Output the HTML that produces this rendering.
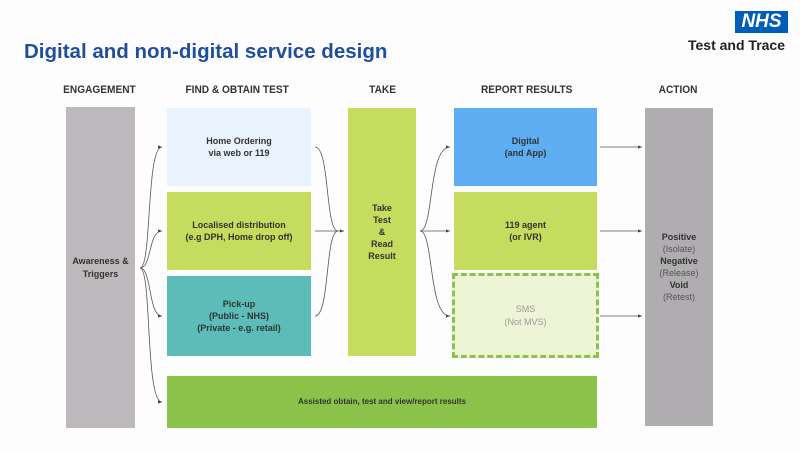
<!DOCTYPE html>
<html><head><style>
body{margin:0;width:800px;height:451px;background:#fdfdfd;position:relative;overflow:hidden;font-family:"Liberation Sans",sans-serif;}
.a{position:absolute;}
.b{position:absolute;display:flex;align-items:center;justify-content:center;text-align:center;font-size:9px;font-weight:bold;color:#333;line-height:1.35;}
.h{position:absolute;top:84px;font-size:11px;font-weight:bold;color:#333;transform:scaleX(0.92);white-space:nowrap;}
</style></head><body>
<div class="a" style="left:735px;top:11px;width:53px;height:22px;background:#005eb8;color:#fff;font-weight:bold;font-style:italic;font-size:19px;line-height:22px;text-align:center;">NHS</div>
<div class="a" style="left:688px;top:37px;font-size:14px;font-weight:bold;color:#222;">Test and Trace</div>
<div class="a" style="left:24px;top:40px;font-size:20.5px;font-weight:bold;color:#1f4e9c;">Digital and non-digital service design</div>
<div class="h" style="left:60px">ENGAGEMENT</div>
<div class="h" style="left:181px">FIND &amp; OBTAIN TEST</div>
<div class="h" style="left:368px">TAKE</div>
<div class="h" style="left:477px">REPORT RESULTS</div>
<div class="h" style="left:657px">ACTION</div>

<div class="b" style="left:66px;top:107px;width:69px;height:321px;background:#bcb8bb;">Awareness &amp;<br>Triggers</div>
<div class="b" style="left:167px;top:108px;width:144px;height:78px;background:#e8f3fd;">Home Ordering<br>via web or 119</div>
<div class="b" style="left:167px;top:192px;width:144px;height:78px;background:#c6dc5e;">Localised distribution<br>(e.g DPH, Home drop off)</div>
<div class="b" style="left:167px;top:276px;width:144px;height:80px;background:#5cbcb7;">Pick-up<br>(Public - NHS)<br>(Private - e.g. retail)</div>
<div class="b" style="left:348px;top:108px;width:68px;height:248px;background:#c6dc5e;">Take<br>Test<br>&amp;<br>Read<br>Result</div>
<div class="b" style="left:167px;top:376px;width:430px;height:52px;background:#8bc34a;font-size:8px;">Assisted obtain, test and view/report results</div>
<div class="b" style="left:454px;top:108px;width:143px;height:78px;background:#5eaef3;">Digital<br>(and App)</div>
<div class="b" style="left:454px;top:192px;width:143px;height:78px;background:#c6dc5e;">119 agent<br>(or IVR)</div>
<div class="b" style="left:452px;top:273px;width:141px;height:79px;background:#eef4d6;border:3px dashed #8bc34a;color:#999;font-weight:normal;">SMS<br>(Not MVS)</div>
<div class="b" style="left:645px;top:108px;width:68px;height:318px;background:#b0adb0;font-weight:normal;color:#555;">
<div><b style="color:#333">Positive</b><br>(Isolate)<br><b style="color:#333">Negative</b><br>(Release)<br><b style="color:#333">Void</b><br>(Retest)</div></div>

<svg class="a" style="left:0;top:0" width="800" height="451">
<defs><marker id="m" markerWidth="5" markerHeight="4" refX="5" refY="2" orient="auto"><path d="M0,0L5,2L0,4z" fill="#444"/></marker></defs>
<g fill="none" stroke="#555" stroke-width="0.8">
<path d="M140,268 C152,268 146,147 162,147" marker-end="url(#m)"/>
<path d="M140,268 C152,268 148,231 162,231" marker-end="url(#m)"/>
<path d="M140,268 C152,268 148,316 162,316" marker-end="url(#m)"/>
<path d="M140,268 C152,268 145,402 162,402" marker-end="url(#m)"/>
<path d="M315,147 C330,147 325,231 338,231"/>
<path d="M315,316 C330,316 325,231 338,231"/>
<path d="M315,231 L344,231" marker-end="url(#m)"/>
<path d="M420,231 C434,231 428,147 450,147" marker-end="url(#m)"/>
<path d="M420,231 L450,231" marker-end="url(#m)"/>
<path d="M420,231 C434,231 428,316 450,316" marker-end="url(#m)"/>
<path d="M600,147 L642,147" marker-end="url(#m)"/>
<path d="M600,231 L642,231" marker-end="url(#m)"/>
<path d="M600,316 L642,316" marker-end="url(#m)"/>
</g></svg>
</body></html>
